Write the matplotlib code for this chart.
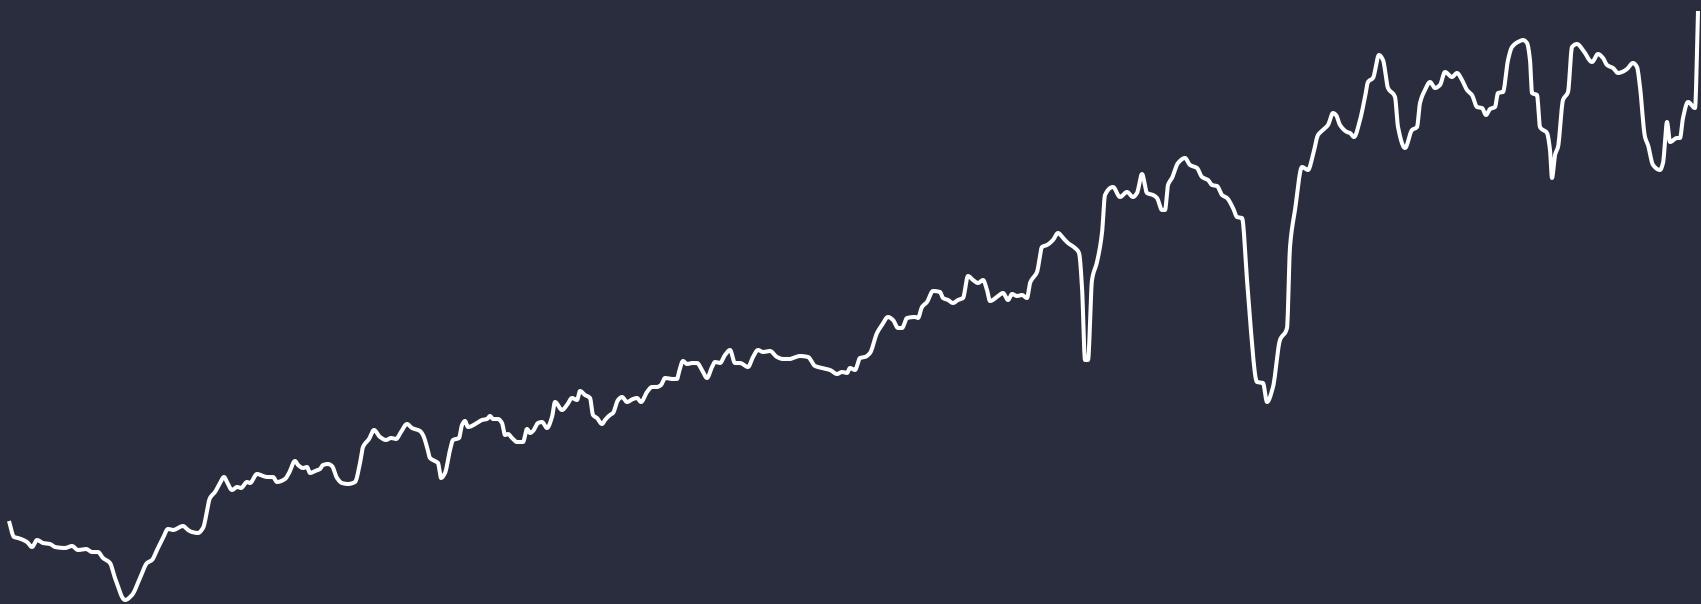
import matplotlib
matplotlib.use("Agg")
import matplotlib.pyplot as plt
import numpy as np

# time index (weeks) and level
week = [9, 14, 18, 27, 32, 37, 43, 50, 55, 65, 72, 78, 86, 92, 98, 103, 110, 115, 125, 132,
        140, 147, 152, 157, 163, 168, 173, 183, 188, 192, 198, 203, 210, 215, 220, 224, 227, 232, 237, 241,
        247, 250, 257, 263, 267, 273, 277, 285, 289, 295, 298, 303, 307, 310, 315, 320, 323, 328, 332, 337,
        342, 348, 355, 360, 363, 369, 374, 380, 386, 391, 396, 401, 407, 412, 420, 423, 427, 430, 435, 438,
        441, 445, 450, 453, 459, 462, 465, 468, 477, 482, 487, 490, 493, 498, 502, 505, 508, 512, 517, 523,
        527, 530, 533, 538, 542, 547, 552, 555, 562, 567, 572, 577, 580, 585, 590, 593, 597, 602, 605, 610,
        613, 618, 622, 627, 633, 637, 641, 647, 652, 657, 661, 665, 672, 677, 679, 683, 687, 692, 697, 702,
        707, 712, 715, 720, 725, 730, 735, 740, 748, 753, 758, 763, 770, 777, 783, 790, 793, 800, 808, 815,
        822, 830, 837, 842, 847, 850, 855, 860, 865, 870, 877, 882, 888, 893, 898, 902, 907, 915, 918, 922,
        927, 933, 940, 943, 948, 953, 958, 963, 968, 973, 978, 983, 987, 990, 997, 1003, 1008, 1012, 1017, 1022,
        1027, 1030, 1037, 1042, 1047, 1053, 1058, 1063, 1068, 1075, 1079, 1082, 1085, 1088, 1092, 1097, 1102, 1105, 1113, 1120,
        1127, 1133, 1137, 1142, 1147, 1153, 1157, 1162, 1165, 1168, 1172, 1178, 1185, 1190, 1197, 1202, 1208, 1212, 1217, 1222,
        1227, 1233, 1237, 1242, 1247, 1250, 1257, 1263, 1267, 1273, 1280, 1287, 1290, 1295, 1302, 1308, 1313, 1318, 1323, 1328,
        1333, 1336, 1340, 1347, 1350, 1354, 1360, 1365, 1368, 1373, 1379, 1383, 1388, 1395, 1398, 1405, 1412, 1417, 1420, 1425,
        1430, 1435, 1440, 1445, 1452, 1457, 1462, 1467, 1472, 1477, 1482, 1486, 1490, 1495, 1498, 1503, 1508, 1512, 1520, 1523,
        1527, 1530, 1532, 1537, 1540, 1547, 1550, 1552, 1555, 1558, 1563, 1568, 1572, 1577, 1583, 1592, 1598, 1603, 1607, 1613,
        1618, 1622, 1627, 1633, 1637, 1640, 1645, 1648, 1653, 1660, 1663, 1667, 1670, 1677, 1680, 1683, 1688, 1695, 1698]

level = [83, 67, 66, 62, 57, 64, 61, 60, 57, 56, 58, 54, 55, 52, 52, 46, 41, 26, 4, 9,
         26, 41, 44, 54, 66, 75, 74, 78, 74, 72, 71, 76, 106, 112, 121, 127, 122, 114, 117, 116,
         122, 121, 130, 128, 127, 127, 122, 125, 131, 143, 139, 136, 137, 131, 133, 135, 139, 140, 138, 126,
         121, 120, 122, 141, 157, 165, 174, 167, 164, 166, 165, 172, 180, 176, 173, 169, 157, 146, 143, 141,
         126, 131, 154, 164, 166, 179, 183, 177, 181, 184, 185, 188, 185, 185, 181, 169, 170, 166, 162, 162,
         175, 171, 173, 181, 182, 176, 187, 202, 194, 199, 206, 204, 213, 209, 206, 189, 186, 180, 184, 189,
         191, 204, 207, 202, 205, 206, 202, 212, 217, 217, 219, 226, 225, 225, 232, 243, 240, 241, 241, 234,
         226, 237, 242, 241, 249, 254, 241, 241, 237, 247, 254, 252, 253, 247, 245, 245, 246, 248, 247, 238,
         236, 234, 230, 232, 231, 236, 234, 246, 247, 251, 271, 279, 287, 284, 276, 276, 286, 287, 286, 297,
         302, 313, 312, 306, 304, 301, 304, 306, 328, 324, 321, 324, 314, 303, 307, 311, 304, 310, 308, 309,
         306, 321, 332, 357, 359, 364, 371, 366, 361, 356, 351, 317, 244, 244, 324, 342, 371, 409, 417, 407,
         412, 407, 411, 430, 411, 409, 406, 394, 394, 419, 426, 441, 446, 439, 436, 427, 424, 419, 418, 409,
         406, 396, 387, 386, 324, 284, 222, 221, 202, 217, 264, 276, 357, 394, 437, 434, 449, 469, 474, 479,
         491, 489, 479, 472, 471, 467, 484, 507, 522, 526, 549, 544, 516, 507, 477, 456, 474, 477, 501, 514,
         522, 516, 519, 532, 527, 531, 524, 514, 509, 497, 496, 489, 495, 497, 511, 512, 544, 557, 563, 564,
         561, 544, 511, 509, 477, 471, 454, 426, 449, 457, 504, 512, 557, 560, 554, 542, 550, 546, 539, 536,
         531, 532, 535, 541, 537, 517, 467, 459, 439, 434, 441, 482, 462, 466, 466, 486, 502, 496, 593]

BG = "#2a2d3e"


def monotone_curve(x, y, n=12):
    # monotone cubic (Fritsch-Carlson) just for drawing a smooth line through the points
    x = np.asarray(x, float)
    y = np.asarray(y, float)
    h = np.diff(x)
    d = np.diff(y) / h
    m = np.zeros_like(y)
    m[0], m[-1] = d[0], d[-1]
    for i in range(1, len(y) - 1):
        if d[i - 1] * d[i] > 0:
            w1 = 2 * h[i] + h[i - 1]
            w2 = h[i] + 2 * h[i - 1]
            m[i] = (w1 + w2) / (w1 / d[i - 1] + w2 / d[i])
    xs, ys = [], []
    for i in range(len(h)):
        t = np.linspace(0, 1, n, endpoint=False)
        h00 = 2 * t**3 - 3 * t**2 + 1
        h10 = t**3 - 2 * t**2 + t
        h01 = -2 * t**3 + 3 * t**2
        h11 = t**3 - t**2
        xs.append(x[i] + t * h[i])
        ys.append(h00 * y[i] + h10 * h[i] * m[i] + h01 * y[i + 1] + h11 * h[i] * m[i + 1])
    xs.append([x[-1]])
    ys.append([y[-1]])
    return np.concatenate(xs), np.concatenate(ys)


fig = plt.figure(figsize=(17.01, 6.04), dpi=100, facecolor=BG)
ax = fig.add_axes([0, 0, 1, 1])
ax.set_facecolor(BG)
sx, sy = monotone_curve(week, level)
ax.plot(sx, sy, color="white", linewidth=2.9,
        solid_joinstyle="round", solid_capstyle="butt")
ax.set_xlim(0, 1701)
ax.set_ylim(0, 604)
ax.axis("off")

fig.savefig("out.png", dpi=100, facecolor=BG)
